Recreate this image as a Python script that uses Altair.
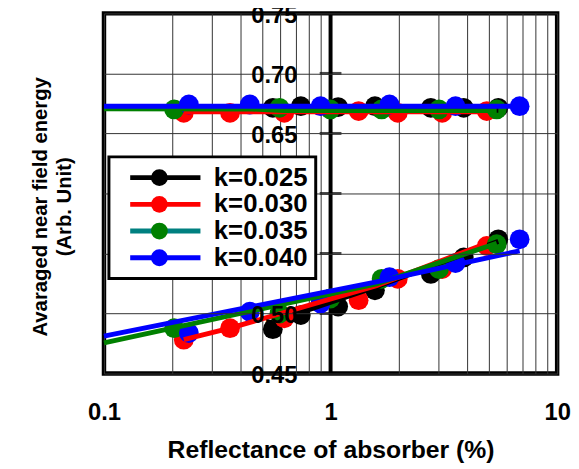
import altair as alt
import pandas as pd

# ---------------- data ----------------
series = ["k=0.025", "k=0.030", "k=0.035", "k=0.040"]
colors = ["#000000", "#ff0000", "#008000", "#0000ff"]
legend_line_colors = ["#000000", "#ff0000", "#008080", "#0000ff"]

# measured points (x = reflectance %, same x for the upper and lower groups)
x_025 = [0.556, 0.739, 1.08, 1.57, 2.77, 3.87, 5.5]
x_030 = [0.225, 0.36, 0.625, 1.33, 1.98, 3.11, 4.89]
x_035 = [0.204, 0.595, 0.998, 1.68, 3.01, 5.41]
x_040 = [0.237, 0.44, 0.903, 1.82, 3.56, 6.83]

hi_025 = [0.6713, 0.6727, 0.6720, 0.6727, 0.6713, 0.6713, 0.6713]
hi_030 = [0.6672, 0.6672, 0.6672, 0.6686, 0.6672, 0.6672, 0.6686]
hi_035 = [0.6700, 0.6713, 0.6700, 0.6700, 0.6700, 0.6700]
hi_040 = [0.6741, 0.6741, 0.6727, 0.6741, 0.6727, 0.6727]

lo_025 = [0.4870, 0.4987, 0.5058, 0.5193, 0.5330, 0.5467, 0.5618]
lo_030 = [0.4782, 0.4878, 0.4960, 0.5111, 0.5289, 0.5371, 0.5563]
lo_035 = [0.4878, 0.5000, 0.5125, 0.5289, 0.5370, 0.5577]
lo_040 = [0.4837, 0.5015, 0.5084, 0.5303, 0.5420, 0.5618]

# fitted lines (vertices)
fit_hi_x = {
    "k=0.025": [0.556, 5.5],
    "k=0.030": [0.225, 4.89],
    "k=0.035": [0.1, 0.45, 0.62, 5.41],
    "k=0.040": [0.1, 6.83],
}
fit_hi_y = {
    "k=0.025": [0.6692, 0.6692],
    "k=0.030": [0.6680, 0.6680],
    "k=0.035": [0.6706, 0.6704, 0.6690, 0.6690],
    "k=0.040": [0.6726, 0.6726],
}
fit_lo_x = {
    "k=0.025": [0.739, 1.595, 5.5],
    "k=0.030": [0.225, 0.36, 1.595, 4.89],
    "k=0.035": [0.1, 1.595, 5.41],
    "k=0.040": [0.1, 1.595, 6.83],
}
fit_lo_y = {
    "k=0.025": [0.5010, 0.5223, 0.5601],
    "k=0.030": [0.4782, 0.4878, 0.5232, 0.5585],
    "k=0.035": [0.4755, 0.5248, 0.5585],
    "k=0.040": [0.4812, 0.5264, 0.5522],
}

x_grid = [0.1, 0.2, 0.3, 0.4, 0.5, 0.6, 0.7, 0.8, 0.9,
          1, 2, 3, 4, 5, 6, 7, 8, 9, 10]
x_labels = [0.1, 1, 10]
y_ticks = [0.45, 0.50, 0.55, 0.60, 0.65, 0.70, 0.75]
y_axis_at = 1.0

# ---------------- tables ----------------
pts_x = [x_025, x_030, x_035, x_040]
pts_hi = [hi_025, hi_030, hi_035, hi_040]
pts_lo = [lo_025, lo_030, lo_035, lo_040]

prow = []
for s, xs, his, los in zip(series, pts_x, pts_hi, pts_lo):
    for xv, yv in zip(xs, his):
        prow.append({"R": xv, "E": yv, "kp": s})
    for xv, yv in zip(xs, los):
        prow.append({"R": xv, "E": yv, "kp": s})
points = pd.DataFrame(prow)

lrow = []
for s in series:
    for i, (xv, yv) in enumerate(zip(fit_hi_x[s], fit_hi_y[s])):
        lrow.append({"R": xv, "E": yv, "k": s, "grp": s + "hi", "o": i})
    for i, (xv, yv) in enumerate(zip(fit_lo_x[s], fit_lo_y[s])):
        lrow.append({"R": xv, "E": yv, "k": s, "grp": s + "lo", "o": i})
lines = pd.DataFrame(lrow)

ticks = pd.DataFrame({"R": [y_axis_at] * len(y_ticks), "E": y_ticks})
axis_line = pd.DataFrame({"R": [y_axis_at]})

# ---------------- styling ----------------
FONT = "Liberation Sans"
label_expr = " || ".join(f"datum.value == {v}" for v in x_labels)

x_axis = alt.Axis(
    values=x_grid, format="~g",
    labelExpr=f"({label_expr}) ? datum.label : ''",
    grid=True, gridColor="#333333", gridWidth=1,
    ticks=False, domain=False,
    labelFont=FONT, labelFontSize=24, labelFontWeight="bold", labelColor="black",
    labelPadding=27, labelFlush=False, labelOverlap=False,
    title="Reflectance of absorber (%)",
    titleFont=FONT, titleFontSize=25, titleFontWeight="bold", titleColor="black",
    titlePadding=14,
)
y_axis = alt.Axis(
    values=y_ticks, format=".2f",
    offset=-229, grid=True, gridColor="#333333", gridWidth=1,
    ticks=False, domain=False,
    labelFont=FONT, labelFontSize=24, labelFontWeight="bold", labelColor="black",
    labelPadding=34, labelOffset=2.5,
    title=["Avaraged near field energy", "(Arb. Unit)"],
    titleFont=FONT, titleFontSize=20.5, titleFontWeight="bold", titleColor="black",
    titleX=-293, titleY=195, titleAngle=-90, titleAlign="center",
    titleBaseline="middle", titleLineHeight=24,
    zindex=1,
)

x_enc = alt.X("R:Q", scale=alt.Scale(type="log", domain=[0.1, 10]), axis=x_axis)
y_enc = alt.Y("E:Q", scale=alt.Scale(domain=[0.45, 0.75], zero=False, nice=False), axis=y_axis)

legend_lines = alt.Legend(
    title=None, orient="none", legendX=5, legendY=145,
    symbolType="M-3.55,0H3.55", symbolSize=400, symbolStrokeWidth=5,
    symbolOffset=36, labelOffset=36, symbolOpacity=1,
    labelFont=FONT, labelFontSize=26, labelFontWeight="bold", labelColor="black",
    padding=8, rowPadding=1,
    strokeColor="black", fillColor="white", zindex=2,
)
legend_pts = alt.Legend(
    title=None, orient="none", legendX=5, legendY=145,
    symbolType="circle", symbolSize=289, symbolStrokeWidth=0,
    symbolStrokeColor="transparent", symbolOpacity=1,
    symbolOffset=30, labelOffset=36,
    labelFont=FONT, labelFontSize=26, labelFontWeight="bold", labelOpacity=0,
    padding=8, rowPadding=1, zindex=3,
)

axis_rule = alt.Chart(axis_line).mark_rule(color="black", strokeWidth=4).encode(
    x=x_enc,
)
tick_layer = alt.Chart(ticks).mark_tick(orient="horizontal", size=22, thickness=3, color="black").encode(
    x=x_enc, y=y_enc,
)
pts_layer = alt.Chart(points).mark_circle(size=400, opacity=1).encode(
    x=x_enc, y=y_enc,
    fill=alt.Fill("kp:N", scale=alt.Scale(domain=series, range=colors), legend=legend_pts),
)
line_layer = alt.Chart(lines).mark_line(strokeWidth=5).encode(
    x=x_enc, y=y_enc,
    stroke=alt.Stroke("k:N", scale=alt.Scale(domain=series, range=colors), legend=None),
    detail="grp:N",
    order="o:Q",
)
# empty layer that only carries the line legend (its 0.035 swatch is teal)
legend_layer = alt.Chart(lines).transform_filter("false").mark_line(strokeWidth=5).encode(
    x=x_enc, y=y_enc,
    stroke=alt.Stroke("k:N", scale=alt.Scale(domain=series, range=legend_line_colors),
                      legend=legend_lines),
)

chart = alt.layer(axis_rule, tick_layer, pts_layer, line_layer, legend_layer).properties(
    width=458, height=364,
    padding={"left": 97, "top": 3, "right": 14, "bottom": 92},
    autosize=alt.AutoSizeParams(type="none"),
    background="white",
).configure_view(
    stroke="black", strokeWidth=4.5,
).configure_legend(
    strokeWidth=3,
).resolve_scale(fill="independent", stroke="independent")

chart.save("out.html", embed_options={"renderer": "svg", "actions": False})
